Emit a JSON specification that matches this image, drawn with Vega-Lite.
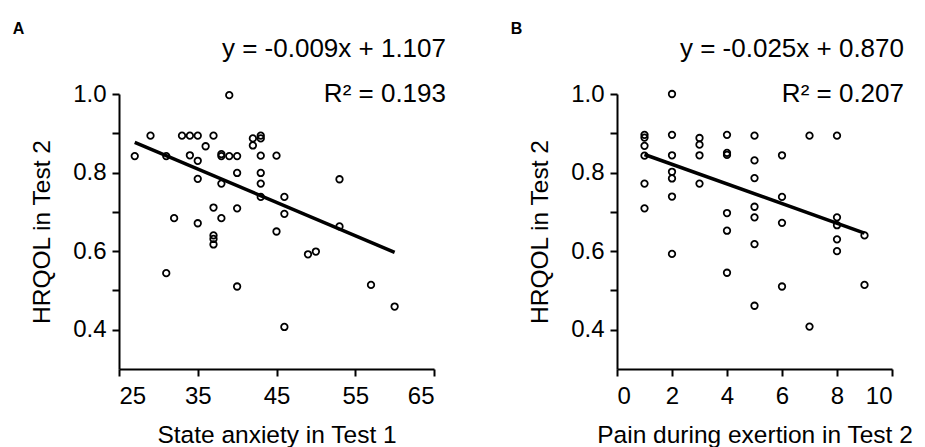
{
  "$schema": "https://vega.github.io/schema/vega-lite/v6.json",
  "background": "white",
  "padding": {"left": 12, "top": 21, "right": 5, "bottom": 0},
  "spacing": 64,
  "config": {
    "font": "Liberation Sans",
    "view": {"stroke": null},
    "axis": {
      "grid": false,
      "domainColor": "black",
      "domainWidth": 2,
      "tickColor": "black",
      "tickWidth": 2,
      "tickSize": 7,
      "labelColor": "black",
      "labelFont": "Liberation Sans",
      "labelFontSize": 24,
      "labelPadding": 6,
      "titleColor": "black",
      "titleFont": "Liberation Sans",
      "titleFontSize": 24.5,
      "titleFontWeight": "normal"
    },
    "axisX": {"labelPadding": 8},
    "title": {"font": "Liberation Sans", "fontSize": 16, "fontWeight": "bold", "color": "black", "anchor": "start", "frame": "bounds", "offset": 2}
  },
  "datasets": {
    "anxiety": [
      {"anxiety": 27, "hrqol": 0.842},
      {"anxiety": 29, "hrqol": 0.894},
      {"anxiety": 31, "hrqol": 0.842},
      {"anxiety": 31, "hrqol": 0.544},
      {"anxiety": 32, "hrqol": 0.684},
      {"anxiety": 33, "hrqol": 0.894},
      {"anxiety": 34, "hrqol": 0.894},
      {"anxiety": 35, "hrqol": 0.894},
      {"anxiety": 34, "hrqol": 0.844},
      {"anxiety": 35, "hrqol": 0.830},
      {"anxiety": 35, "hrqol": 0.784},
      {"anxiety": 35, "hrqol": 0.671},
      {"anxiety": 36, "hrqol": 0.867},
      {"anxiety": 37, "hrqol": 0.894},
      {"anxiety": 37, "hrqol": 0.711},
      {"anxiety": 37, "hrqol": 0.640},
      {"anxiety": 37, "hrqol": 0.631},
      {"anxiety": 37, "hrqol": 0.617},
      {"anxiety": 38, "hrqol": 0.847},
      {"anxiety": 38, "hrqol": 0.842},
      {"anxiety": 38, "hrqol": 0.772},
      {"anxiety": 38, "hrqol": 0.684},
      {"anxiety": 39, "hrqol": 0.842},
      {"anxiety": 39, "hrqol": 0.997},
      {"anxiety": 40, "hrqol": 0.842},
      {"anxiety": 40, "hrqol": 0.799},
      {"anxiety": 40, "hrqol": 0.709},
      {"anxiety": 40, "hrqol": 0.510},
      {"anxiety": 42, "hrqol": 0.887},
      {"anxiety": 42, "hrqol": 0.869},
      {"anxiety": 43, "hrqol": 0.894},
      {"anxiety": 43, "hrqol": 0.887},
      {"anxiety": 43, "hrqol": 0.843},
      {"anxiety": 43, "hrqol": 0.799},
      {"anxiety": 43, "hrqol": 0.772},
      {"anxiety": 43, "hrqol": 0.738},
      {"anxiety": 45, "hrqol": 0.843},
      {"anxiety": 45, "hrqol": 0.650},
      {"anxiety": 46, "hrqol": 0.738},
      {"anxiety": 46, "hrqol": 0.695},
      {"anxiety": 46, "hrqol": 0.407},
      {"anxiety": 49, "hrqol": 0.592},
      {"anxiety": 50, "hrqol": 0.599},
      {"anxiety": 53, "hrqol": 0.783},
      {"anxiety": 53, "hrqol": 0.663},
      {"anxiety": 57, "hrqol": 0.514},
      {"anxiety": 60, "hrqol": 0.459}
    ],
    "fitA": [
      {"anxiety": 27, "hrqol": 0.877},
      {"anxiety": 60, "hrqol": 0.597}
    ],
    "annotA": [
      {"equation": "y = -0.009x + 1.107", "r2": "R² = 0.193"}
    ],
    "pain": [
      {"pain": 1, "hrqol": 0.896},
      {"pain": 1, "hrqol": 0.889},
      {"pain": 1, "hrqol": 0.868},
      {"pain": 1, "hrqol": 0.843},
      {"pain": 1, "hrqol": 0.772},
      {"pain": 1, "hrqol": 0.709},
      {"pain": 2, "hrqol": 1.0},
      {"pain": 2, "hrqol": 0.896},
      {"pain": 2, "hrqol": 0.844},
      {"pain": 2, "hrqol": 0.802},
      {"pain": 2, "hrqol": 0.785},
      {"pain": 2, "hrqol": 0.739},
      {"pain": 2, "hrqol": 0.593},
      {"pain": 3, "hrqol": 0.888},
      {"pain": 3, "hrqol": 0.871},
      {"pain": 3, "hrqol": 0.844},
      {"pain": 3, "hrqol": 0.772},
      {"pain": 4, "hrqol": 0.896},
      {"pain": 4, "hrqol": 0.850},
      {"pain": 4, "hrqol": 0.845},
      {"pain": 4, "hrqol": 0.697},
      {"pain": 4, "hrqol": 0.652},
      {"pain": 4, "hrqol": 0.545},
      {"pain": 5, "hrqol": 0.894},
      {"pain": 5, "hrqol": 0.831},
      {"pain": 5, "hrqol": 0.786},
      {"pain": 5, "hrqol": 0.713},
      {"pain": 5, "hrqol": 0.686},
      {"pain": 5, "hrqol": 0.618},
      {"pain": 5, "hrqol": 0.461},
      {"pain": 6, "hrqol": 0.844},
      {"pain": 6, "hrqol": 0.738},
      {"pain": 6, "hrqol": 0.672},
      {"pain": 6, "hrqol": 0.510},
      {"pain": 7, "hrqol": 0.894},
      {"pain": 7, "hrqol": 0.408},
      {"pain": 8, "hrqol": 0.894},
      {"pain": 8, "hrqol": 0.686},
      {"pain": 8, "hrqol": 0.666},
      {"pain": 8, "hrqol": 0.630},
      {"pain": 8, "hrqol": 0.600},
      {"pain": 9, "hrqol": 0.640},
      {"pain": 9, "hrqol": 0.514}
    ],
    "fitB": [
      {"pain": 1, "hrqol": 0.846},
      {"pain": 9, "hrqol": 0.646}
    ],
    "annotB": [
      {"equation": "y = -0.025x + 0.870", "r2": "R² = 0.207"}
    ]
  },
  "hconcat": [
    {
      "width": 315,
      "height": 275,
      "title": {"text": "A", "dx": -17, "dy": 3},
      "layer": [
        {
          "data": {"name": "anxiety"},
          "mark": {"type": "point", "shape": "circle", "filled": false, "color": "black", "strokeWidth": 1.8, "size": 42, "opacity": 1},
          "encoding": {
            "x": {"field": "anxiety", "type": "quantitative",
              "scale": {"domain": [25, 65], "nice": false, "zero": false},
              "axis": {"title": "State anxiety in Test 1", "values": [25, 30, 35, 40, 45, 50, 55, 60, 65], "labelExpr": "datum.value % 10 == 5 ? datum.label : ''", "titlePadding": 15}},
            "y": {"field": "hrqol", "type": "quantitative",
              "scale": {"domain": [0.3, 1.0], "nice": false, "zero": false},
              "axis": {"title": "HRQOL in Test 2", "values": [0.4, 0.5, 0.6, 0.7, 0.8, 0.9, 1.0], "labelExpr": "round(datum.value * 10) % 2 == 0 ? format(datum.value, '.1f') : ''", "titlePadding": 18}}
          }
        },
        {
          "data": {"name": "fitA"},
          "mark": {"type": "line", "color": "black", "strokeWidth": 3.5},
          "encoding": {
            "x": {"field": "anxiety", "type": "quantitative"},
            "y": {"field": "hrqol", "type": "quantitative"}
          }
        },
        {
          "data": {"name": "annotA"},
          "mark": {"type": "text", "align": "right", "baseline": "middle", "fontSize": 26, "color": "black", "dx": 12, "dy": -45},
          "encoding": {
            "x": {"datum": 65, "type": "quantitative"},
            "y": {"datum": 1.0, "type": "quantitative"},
            "text": {"field": "equation"}
          }
        },
        {
          "data": {"name": "annotA"},
          "mark": {"type": "text", "align": "right", "baseline": "middle", "fontSize": 26, "color": "black", "dx": 12, "dy": 0},
          "encoding": {
            "x": {"datum": 65, "type": "quantitative"},
            "y": {"datum": 1.0, "type": "quantitative"},
            "text": {"field": "r2"}
          }
        }
      ]
    },
    {
      "width": 275,
      "height": 275,
      "title": {"text": "B", "dx": -17, "dy": 3},
      "layer": [
        {
          "data": {"name": "pain"},
          "mark": {"type": "point", "shape": "circle", "filled": false, "color": "black", "strokeWidth": 1.8, "size": 42, "opacity": 1},
          "encoding": {
            "x": {"field": "pain", "type": "quantitative",
              "scale": {"domain": [0, 10], "nice": false, "zero": false},
              "axis": {"title": "Pain during exertion in Test 2", "values": [0, 2, 4, 6, 8, 10], "titlePadding": 15}},
            "y": {"field": "hrqol", "type": "quantitative",
              "scale": {"domain": [0.3, 1.0], "nice": false, "zero": false},
              "axis": {"title": "HRQOL in Test 2", "values": [0.4, 0.5, 0.6, 0.7, 0.8, 0.9, 1.0], "labelExpr": "round(datum.value * 10) % 2 == 0 ? format(datum.value, '.1f') : ''", "titlePadding": 18}}
          }
        },
        {
          "data": {"name": "fitB"},
          "mark": {"type": "line", "color": "black", "strokeWidth": 3.5},
          "encoding": {
            "x": {"field": "pain", "type": "quantitative"},
            "y": {"field": "hrqol", "type": "quantitative"}
          }
        },
        {
          "data": {"name": "annotB"},
          "mark": {"type": "text", "align": "right", "baseline": "middle", "fontSize": 26, "color": "black", "dx": 12, "dy": -45},
          "encoding": {
            "x": {"datum": 10, "type": "quantitative"},
            "y": {"datum": 1.0, "type": "quantitative"},
            "text": {"field": "equation"}
          }
        },
        {
          "data": {"name": "annotB"},
          "mark": {"type": "text", "align": "right", "baseline": "middle", "fontSize": 26, "color": "black", "dx": 12, "dy": 0},
          "encoding": {
            "x": {"datum": 10, "type": "quantitative"},
            "y": {"datum": 1.0, "type": "quantitative"},
            "text": {"field": "r2"}
          }
        }
      ]
    }
  ]
}
